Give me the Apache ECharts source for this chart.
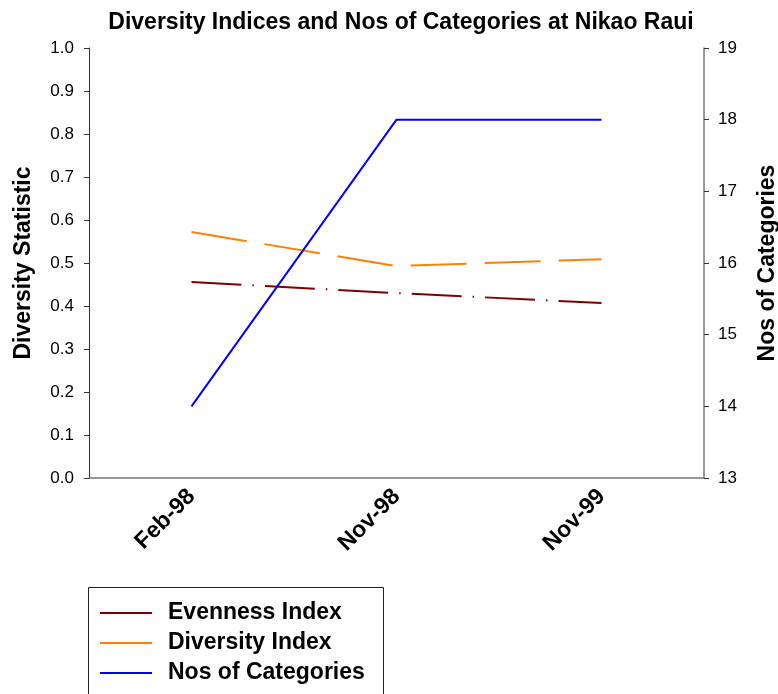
<!DOCTYPE html>
<html>
<head>
<meta charset="utf-8">
<script src="https://cdn.jsdelivr.net/npm/echarts@6/dist/echarts.min.js"></script>
<style>
  html, body { margin: 0; padding: 0; background: #fff; }
  #chart { width: 778px; height: 694px; }
</style>
</head>
<body>
<div id="chart"></div>
<script>
// Sampling dates
var categories = ['Feb-98', 'Nov-98', 'Nov-99'];
// Diversity statistics (left axis)
var evennessIndex = [0.456, 0.430, 0.407];
var diversityIndex = [0.572, 0.493, 0.509];
// Number of categories (right axis)
var nosOfCategories = [14, 18, 18];

var FONT = 'Liberation Sans, Arial, Helvetica, sans-serif';

var chart = echarts.init(document.getElementById('chart'), null, { renderer: 'canvas' });

chart.setOption({
  backgroundColor: '#ffffff',
  animation: false,
  title: {
    text: 'Diversity Indices and Nos of Categories at Nikao Raui',
    left: 396,
    textAlign: 'center',
    top: 6,
    textStyle: { fontFamily: FONT, fontSize: 23, fontWeight: 'bold', color: '#000' }
  },
  grid: { left: 89, right: 74, top: 48, bottom: 216, containLabel: false, outerBoundsMode: 'none' },
  legend: {
    orient: 'vertical',
    left: 95,
    top: 595,
    itemWidth: 52,
    itemHeight: 14,
    itemGap: 4,
    icon: 'path://M0,6L52,6L52,8L0,8Z',
    textStyle: { fontFamily: FONT, fontSize: 23, fontWeight: 'bold', color: '#000', lineHeight: 26, padding: [0, 0, 0, 11] },
    data: ['Evenness Index', 'Diversity Index', 'Nos of Categories']
  },
  graphic: [{
    type: 'rect',
    shape: { x: 88.5, y: 587.5, width: 295, height: 130 },
    style: { fill: 'none', stroke: '#222', lineWidth: 1 },
    z: 0
  }],
  xAxis: {
    type: 'category',
    data: categories,
    boundaryGap: true,
    axisLine: { lineStyle: { color: '#777', width: 1.5 } },
    axisTick: { alignWithLabel: true, length: 5, lineStyle: { color: '#333' } },
    axisLabel: { rotate: 45, margin: 15, fontFamily: FONT, fontSize: 23, fontWeight: 'bold', color: '#000' }
  },
  yAxis: [{
    type: 'value',
    min: 0, max: 1, interval: 0.1,
    name: 'Diversity Statistic',
    nameLocation: 'middle',
    nameGap: 54,
    nameTextStyle: { fontFamily: FONT, fontSize: 23, fontWeight: 'bold', color: '#000' },
    axisLine: { show: true, lineStyle: { color: '#333', width: 1 } },
    axisTick: { show: true, length: 5, lineStyle: { color: '#333' } },
    splitLine: { show: false },
    axisLabel: {
      margin: 15, fontFamily: FONT, fontSize: 17, color: '#000',
      formatter: function (v) { return v.toFixed(1); }
    }
  }, {
    type: 'value',
    position: 'right',
    min: 13, max: 19, interval: 1,
    name: 'Nos of Categories',
    nameLocation: 'middle',
    nameGap: 52,
    nameRotate: 90,
    nameTextStyle: { fontFamily: FONT, fontSize: 23, fontWeight: 'bold', color: '#000' },
    axisLine: { show: true, lineStyle: { color: '#777', width: 1.5 } },
    axisTick: { show: true, length: 5, lineStyle: { color: '#333' } },
    splitLine: { show: false },
    axisLabel: { margin: 14, fontFamily: FONT, fontSize: 17, color: '#000' }
  }],
  series: [{
    name: 'Evenness Index',
    type: 'line',
    yAxisIndex: 0,
    data: evennessIndex,
    symbol: 'none',
    color: '#800000',
    lineStyle: { color: '#800000', width: 2, type: [50, 11, 1.5, 11] }
  }, {
    name: 'Diversity Index',
    type: 'line',
    yAxisIndex: 0,
    data: diversityIndex,
    symbol: 'none',
    color: '#ff8000',
    lineStyle: { color: '#ff8000', width: 2, type: [56, 18] }
  }, {
    name: 'Nos of Categories',
    type: 'line',
    yAxisIndex: 1,
    data: nosOfCategories,
    symbol: 'none',
    color: '#0000ff',
    lineStyle: { color: '#0000ff', width: 2 }
  }]
});
</script>
</body>
</html>
